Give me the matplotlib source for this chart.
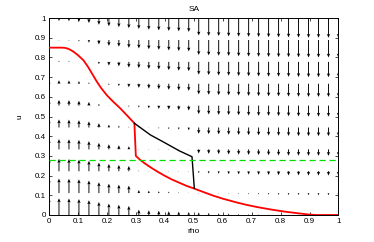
import numpy as np
import matplotlib
matplotlib.use("Agg")
import matplotlib.pyplot as plt

plt.rcParams['font.family'] = ['Liberation Sans', 'DejaVu Sans']

# grid of the vector field
rho_grid = np.linspace(0, 1, 30)
u_grid = np.linspace(0, 1, 10)

# vertical component (du) of the field, one list per u-row (bottom to top), 30 rho columns
du_row0 = [0.085, 0.085, 0.084, 0.081, 0.075, 0.066, 0.058, 0.052, 0.046, 0.027, 0.024, 0.022, 0.019, 0.017, 0.015,
           0.013, 0.011, 0.009, 0.008, 0.006, 0.005, 0.004, 0.003, 0.002, 0.002, 0.001, 0.0, 0.0, 0.0, 0.0]
du_row1 = [0.074, 0.074, 0.073, 0.070, 0.064, 0.055, 0.048, 0.043, 0.038, 0.016, 0.013, 0.010, 0.008, 0.005, 0.003,
           0.001, -0.001, -0.002, -0.004, -0.005, -0.006, -0.007, -0.008, -0.009, -0.010, -0.010, -0.011, -0.011, -0.011, -0.011]
du_row2 = [0.063, 0.063, 0.062, 0.059, 0.053, 0.044, 0.037, 0.032, 0.027, 0.005, 0.002, 0.0, 0.0, 0.0, 0.0,
           -0.010, -0.012, -0.013, -0.015, -0.016, -0.017, -0.018, -0.019, -0.020, -0.021, -0.021, -0.022, -0.022, -0.022, -0.022]
du_row3 = [0.052, 0.052, 0.051, 0.048, 0.042, 0.033, 0.026, 0.021, 0.016, 0.0, 0.0, 0.0, 0.0, 0.0, -0.003,
           -0.021, -0.023, -0.024, -0.026, -0.027, -0.028, -0.029, -0.030, -0.031, -0.032, -0.032, -0.033, -0.033, -0.033, -0.033]
du_row4 = [0.041, 0.041, 0.040, 0.037, 0.031, 0.022, 0.015, 0.010, 0.005, 0.001, -0.003, -0.006, -0.009, -0.011, -0.014,
           -0.032, -0.034, -0.035, -0.037, -0.038, -0.039, -0.040, -0.041, -0.042, -0.043, -0.044, -0.044, -0.044, -0.044, -0.044]
du_row5 = [0.029, 0.029, 0.028, 0.025, 0.019, 0.010, 0.003, -0.001, -0.007, -0.010, -0.014, -0.017, -0.020, -0.023, -0.025,
           -0.043, -0.045, -0.047, -0.048, -0.049, -0.051, -0.052, -0.052, -0.053, -0.054, -0.055, -0.056, -0.056, -0.056, -0.056]
du_row6 = [0.018, 0.018, 0.017, 0.014, 0.008, -0.001, -0.008, -0.012, -0.018, -0.021, -0.025, -0.028, -0.031, -0.034, -0.036,
           -0.054, -0.056, -0.058, -0.059, -0.060, -0.062, -0.063, -0.064, -0.064, -0.065, -0.066, -0.067, -0.067, -0.067, -0.067]
du_row7 = [0.007, 0.007, 0.006, 0.003, -0.003, -0.012, -0.019, -0.023, -0.029, -0.032, -0.036, -0.039, -0.042, -0.045, -0.047,
           -0.065, -0.067, -0.069, -0.070, -0.072, -0.073, -0.074, -0.075, -0.075, -0.076, -0.077, -0.078, -0.078, -0.078, -0.078]
du_row8 = [-0.004, -0.004, -0.005, -0.008, -0.014, -0.023, -0.030, -0.034, -0.040, -0.043, -0.047, -0.050, -0.053, -0.056, -0.058,
           -0.076, -0.078, -0.080, -0.081, -0.083, -0.084, -0.085, -0.086, -0.087, -0.087, -0.088, -0.089, -0.089, -0.089, -0.089]
du_row9 = [-0.015, -0.015, -0.016, -0.019, -0.025, -0.034, -0.041, -0.046, -0.051, -0.055, -0.059, -0.062, -0.065, -0.067, -0.070,
           -0.088, -0.090, -0.091, -0.093, -0.094, -0.095, -0.096, -0.097, -0.098, -0.098, -0.099, -0.100, -0.100, -0.100, -0.100]

# red curve
red_rho = [0.0, 0.045, 0.055, 0.065, 0.075, 0.084, 0.10, 0.119, 0.135, 0.15, 0.165, 0.18, 0.20, 0.22, 0.246, 0.27, 0.295,
           0.300, 0.315, 0.33, 0.35, 0.375, 0.40, 0.425, 0.453, 0.475, 0.50, 0.54, 0.568, 0.60, 0.65, 0.684, 0.72,
           0.77, 0.82, 0.87, 0.90, 0.92, 1.0]
red_u = [0.85, 0.85, 0.849, 0.845, 0.838, 0.83, 0.812, 0.786, 0.752, 0.715, 0.678, 0.645, 0.608, 0.578, 0.542, 0.505, 0.466,
         0.30, 0.28, 0.263, 0.243, 0.22, 0.199, 0.18, 0.162, 0.148, 0.135, 0.113, 0.098, 0.083, 0.063, 0.051, 0.04,
         0.027, 0.016, 0.007, 0.002, 0.0, 0.0]

# black curve
black_rho = [0.295, 0.35, 0.40, 0.45, 0.494, 0.502]
black_u = [0.466, 0.407, 0.367, 0.326, 0.296, 0.136]

# green dashed level
green_u = 0.28

ticks = [0, 0.1, 0.2, 0.3, 0.4, 0.5, 0.6, 0.7, 0.8, 0.9, 1]
tick_labels = ['0', '0.1', '0.2', '0.3', '0.4', '0.5', '0.6', '0.7', '0.8', '0.9', '1']

fig = plt.figure(figsize=(3.74, 2.42), dpi=100)
ax = fig.add_axes([0.131, 0.1116, 0.774, 0.8135])

R, U = np.meshgrid(rho_grid, u_grid)
DV = np.array([du_row0, du_row1, du_row2, du_row3, du_row4, du_row5, du_row6, du_row7, du_row8, du_row9])
DR = np.zeros_like(DV)
ax.quiver(R, U, DR, DV, angles='xy', scale_units='xy', scale=1, color='black',
          width=0.0032, headwidth=3.6, headlength=4.2, headaxislength=3.6, minlength=0.6, zorder=2)

ax.plot(red_rho, red_u, color='red', lw=1.3, zorder=3)
ax.plot(black_rho, black_u, color='black', lw=1.0, zorder=3)
ax.axhline(green_u, color='#00dd00', lw=0.9, ls=(0, (5, 3)), zorder=3)

ax.set_xlim(0, 1)
ax.set_ylim(0, 1)
ax.set_xticks(ticks)
ax.set_xticklabels(tick_labels)
ax.set_yticks(ticks)
ax.set_yticklabels(tick_labels)
ax.tick_params(direction='in', length=2.5, width=0.5, labelsize=5.8, top=True, right=True, pad=2)
for s in ax.spines.values():
    s.set_linewidth(0.7)

ax.set_title('SA', fontsize=6, pad=5)
ax.set_xlabel('rho', fontsize=6, labelpad=2)
ax.set_ylabel('u', fontsize=6, labelpad=8)

fig.savefig('out.png', dpi=100)
